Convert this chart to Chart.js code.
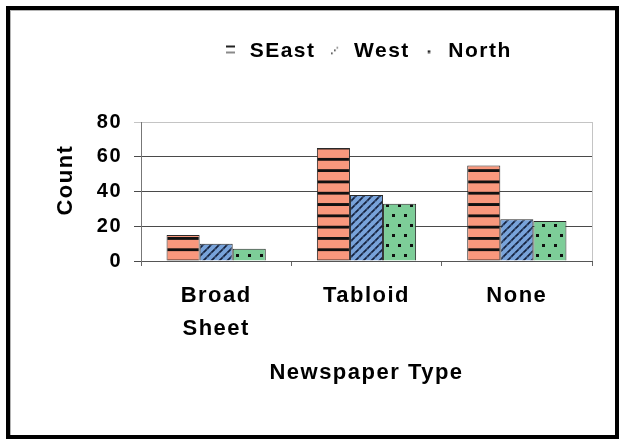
<!DOCTYPE html>
<html>
<head>
<meta charset="utf-8">
<script src="https://cdn.jsdelivr.net/npm/chart.js@4/dist/chart.umd.min.js"></script>
<style>
  html, body { margin: 0; padding: 0; background: #fff; }
  #wrap { position: relative; width: 623px; height: 439px; overflow: hidden; }
  #chart { position: absolute; left: 0; top: 0; }
  #frame {
    position: absolute; left: 6px; top: 6px; width: 605px; height: 425px;
    border: 4px solid #000; box-shadow: inset 1px 1px 0 #b4b4b4; pointer-events: none;
  }
</style>
</head>
<body>
<div id="wrap">
  <canvas id="chart" width="623" height="439"></canvas>
  <div id="frame"></div>
</div>
<script>
// Newspaper readership counts by region
const categories = [['Broad', 'Sheet'], 'Tabloid', 'None'];
const seriesNames = ['SEast', 'West', 'North'];
const sEastCounts = [15, 65, 55];
const westCounts = [10, 38, 24];
const northCounts = [7, 33, 23];
const yTicks = [0, 20, 40, 60, 80];

const SALMON = '#f9987d';
const BLUE = '#78a3da';
const GREEN = '#7dcd98';
const INK = '#111';

const canvas = document.getElementById('chart');
const ctx = canvas.getContext('2d');

function tile(w, h, draw) {
  const c = document.createElement('canvas');
  c.width = w; c.height = h;
  draw(c.getContext('2d'), w, h);
  return c;
}

// Horizontal stripes on salmon
const stripeTile = tile(12, 12, (g, w, h) => {
  g.fillStyle = SALMON; g.fillRect(0, 0, w, h);
  g.fillStyle = INK; g.fillRect(0, 0, w, 3);
});
// Forward diagonals on blue, broken into short dashes
const hatchTile = tile(8, 8, (g, w, h) => {
  g.fillStyle = BLUE; g.fillRect(0, 0, w, h);
  g.strokeStyle = '#14203c'; g.lineWidth = 1.7; g.lineCap = 'butt';
  [[-8, 8], [0, 8], [8, 8]].forEach(([dx]) => {
    g.beginPath();
    g.moveTo(dx - 1, 9);
    g.lineTo(dx + 9, -1);
    g.stroke();
  });
  // small breaks along each diagonal
  g.fillStyle = BLUE;
  g.fillRect(2.6, 4.6, 1, 1);
  g.fillRect(6.6, 0.6, 1, 1);
});
// Staggered dots on green
const dotTile = tile(12, 20, (g, w, h) => {
  g.fillStyle = GREEN; g.fillRect(0, 0, w, h);
  g.fillStyle = INK;
  g.fillRect(2, 4, 3, 3);
  g.fillRect(8, 14, 3, 3);
});

const stripePattern = ctx.createPattern(stripeTile, 'repeat');
const hatchPattern = ctx.createPattern(hatchTile, 'repeat');
const dotPattern = ctx.createPattern(dotTile, 'repeat');

// Small legend glyphs
const legendIcons = [
  tile(9, 14, (g) => {
    g.fillStyle = '#222'; g.fillRect(0, 1, 9, 2);
    g.fillStyle = '#8a8a8a'; g.fillRect(0, 7, 9, 2);
  }),
  tile(9, 14, (g) => {
    g.fillStyle = '#333';
    g.fillRect(1, 8, 1.6, 1.6);
    g.fillRect(4, 5, 1.6, 1.6);
    g.fillStyle = '#777';
    g.fillRect(6.5, 2.5, 1.6, 1.6);
  }),
  tile(4, 4, (g) => {
    g.fillStyle = '#222'; g.fillRect(0.8, 0.8, 2.6, 2.6);
  })
];

// Keep stripes anchored to the zero line
const stripeAnchor = {
  id: 'stripeAnchor',
  afterLayout(chart) {
    const base = chart.scales.y.getPixelForValue(0);
    const m = new DOMMatrix().translate(0, base).scale(1, 11.3 / 12).translate(0, -1.5);
    stripePattern.setTransform(m);
  }
};

// Slightly tracked lettering
const tracking = {
  id: 'tracking',
  beforeUpdate(chart) { chart.ctx.letterSpacing = '1.5px'; },
  beforeDraw(chart) { chart.ctx.letterSpacing = '1.5px'; }
};

Chart.defaults.font.family = "'Liberation Sans', Arial, sans-serif";
Chart.defaults.font.weight = 'bold';
Chart.defaults.color = '#000';

const fills = [stripePattern, hatchPattern, dotPattern];
const values = [sEastCounts, westCounts, northCounts];

new Chart(ctx, {
  type: 'bar',
  data: {
    labels: categories,
    datasets: seriesNames.map((name, i) => ({
      label: name,
      data: values[i],
      backgroundColor: fills[i],
      borderColor: '#2a2a2a',
      borderWidth: 1,
      categoryPercentage: 0.66,
      barPercentage: 1.0
    }))
  },
  options: {
    responsive: false,
    animation: false,
    events: [],
    layout: { padding: { left: 49, right: 31, top: 31, bottom: 49 } },
    plugins: {
      tooltip: { enabled: false },
      legend: {
        display: true,
        position: 'top',
        fullSize: false,
        weight: 3000,
        labels: {
          usePointStyle: true,
          boxWidth: 18,
          padding: 10,
          font: { size: 21, weight: 'bold' },
          color: '#000',
          generateLabels: (chart) => chart.data.datasets.map((ds, i) => ({
            text: ds.label,
            pointStyle: legendIcons[i],
            fillStyle: 'rgba(0,0,0,0)',
            strokeStyle: 'rgba(0,0,0,0)',
            lineWidth: 0,
            hidden: false,
            datasetIndex: i,
            fontColor: '#000'
          }))
        }
      },
      title: {
        display: true,
        text: '',
        font: { size: 10, lineHeight: 1 },
        padding: { top: 0, bottom: 40 }
      }
    },
    scales: {
      x: {
        offset: true,
        grid: {
          offset: true,
          drawOnChartArea: true,
          color: (c) => (c.tick ? 'rgba(0,0,0,0)' : '#c4c4c4'),
          tickColor: '#666',
          tickLength: 5,
          lineWidth: 1
        },
        border: { display: true, color: '#555', width: 1 },
        ticks: {
          padding: 14,
          font: { size: 22, weight: 'bold', lineHeight: 1.48 },
          color: '#000',
          maxRotation: 0
        },
        title: {
          display: true,
          text: 'Newspaper Type',
          font: { size: 22, weight: 'bold' },
          color: '#000',
          padding: { top: 4, bottom: 4 }
        },
        afterFit: (s) => { s.height = 129; }
      },
      y: {
        min: yTicks[0],
        max: yTicks[yTicks.length - 1],
        ticks: {
          stepSize: yTicks[1] - yTicks[0],
          padding: 12,
          font: { size: 20, weight: 'bold' },
          color: '#000'
        },
        grid: {
          color: (c) => (c.tick && c.tick.value === yTicks[yTicks.length - 1] ? '#c4c4c4' : '#4a4a4a'),
          tickColor: (c) => (c.tick && c.tick.value === yTicks[yTicks.length - 1] ? '#c4c4c4' : '#4a4a4a'),
          tickLength: 7,
          lineWidth: 1
        },
        border: { display: true, color: '#777', width: 1 },
        title: {
          display: true,
          text: '   Count',
          font: { size: 22, weight: 'bold' },
          color: '#000',
          padding: { top: 4, bottom: 4 }
        },
        afterFit: (s) => { s.width = 92; }
      }
    }
  },
  plugins: [tracking, stripeAnchor]
});
</script>
</body>
</html>
